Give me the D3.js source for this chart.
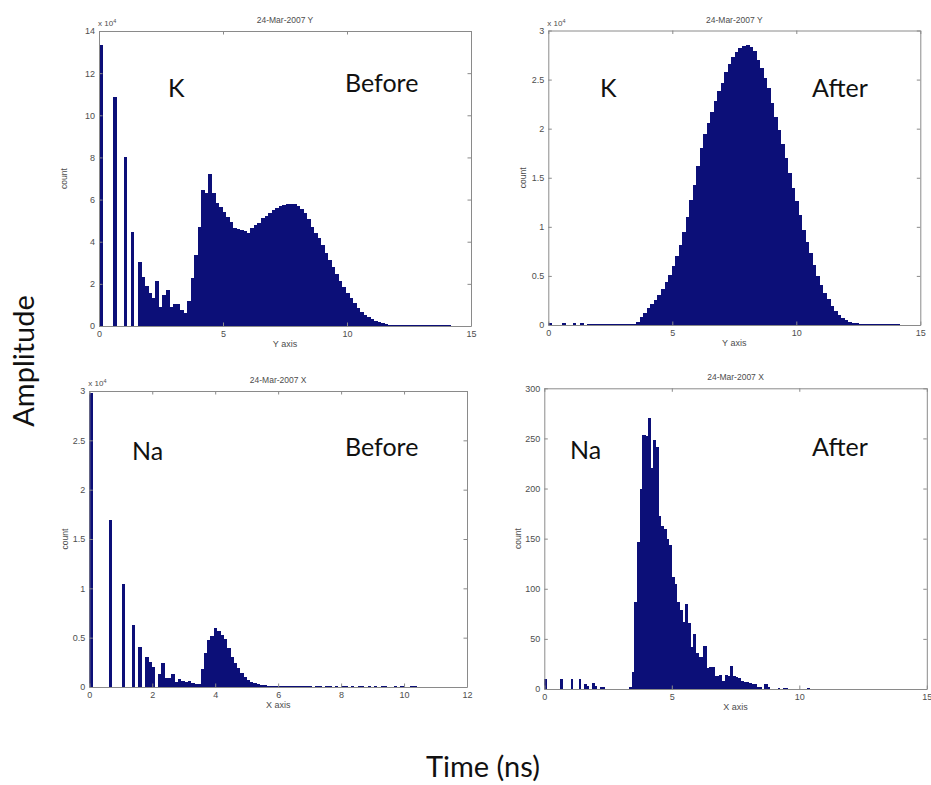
<!DOCTYPE html>
<html>
<head>
<meta charset="utf-8">
<script src="https://cdn.jsdelivr.net/npm/d3@7/dist/d3.min.js"></script>
<style>
  html, body { margin: 0; padding: 0; background: #ffffff; }
  svg { display: block; }
</style>
</head>
<body>
<svg id="chart" width="931" height="785"></svg>
<script>
// ---------------- DATA ----------------
// Histogram counts, 100 bins each. K (Y axis) bins are 0.142 ns wide, Na (X axis) bins 0.104 ns.
const kBinWidth = 0.142;
const naBinWidth = 0.104;

// K Before, counts x 10^4
const kBefore = [
  13.35, 0, 0, 0, 10.85, 0, 0, 8.0, 0, 4.48,
  0, 3.05, 2.34, 1.90, 1.55, 1.31, 2.15, 0.92, 1.47, 1.69,
  0.89, 1.03, 1.03, 0.76, 0.63, 1.19, 2.26, 3.37, 4.72, 6.46,
  6.30, 7.22, 6.33, 5.85, 5.66, 5.43, 5.16, 4.92, 4.64, 4.59,
  4.56, 4.53, 4.43, 4.67, 4.79, 4.91, 5.11, 5.22, 5.35, 5.51,
  5.59, 5.68, 5.74, 5.79, 5.79, 5.78, 5.70, 5.54, 5.35, 5.06,
  4.72, 4.43, 4.16, 3.84, 3.48, 3.13, 2.78, 2.47, 2.15, 1.87,
  1.55, 1.31, 1.08, 0.87, 0.68, 0.52, 0.41, 0.32, 0.24, 0.17,
  0.13, 0.09, 0.06, 0.05, 0.03, 0.025, 0.02, 0.015, 0.012, 0.01,
  0.008, 0.006, 0.005, 0.004, 0.003, 0.003, 0.002, 0.002, 0.001, 0.001
];

// K After, counts x 10^4
const kAfter = [
  0.02, 0, 0, 0, 0.02, 0, 0, 0.02, 0, 0.02,
  0, 0.008, 0.007, 0.007, 0.006, 0.007, 0.01, 0.006, 0.008, 0.012,
  0.007, 0.008, 0.008, 0.009, 0.012, 0.03, 0.08, 0.12, 0.17, 0.21,
  0.25, 0.31, 0.37, 0.44, 0.51, 0.60, 0.70, 0.82, 0.95, 1.10,
  1.27, 1.43, 1.62, 1.80, 1.95, 2.06, 2.17, 2.28, 2.38, 2.47,
  2.58, 2.66, 2.73, 2.78, 2.82, 2.84, 2.85, 2.83, 2.79, 2.70,
  2.62, 2.52, 2.41, 2.26, 2.12, 1.99, 1.84, 1.70, 1.55, 1.40,
  1.26, 1.12, 0.97, 0.85, 0.73, 0.61, 0.50, 0.41, 0.33, 0.26,
  0.19, 0.14, 0.10, 0.07, 0.05, 0.034, 0.024, 0.017, 0.012, 0.008,
  0.005, 0.004, 0.003, 0.003, 0.002, 0.002, 0.001, 0.001, 0.001, 0.001
];

// Na Before, counts x 10^4
const naBefore = [
  2.98, 0, 0, 0, 0, 0, 1.69, 0, 0, 0,
  1.04, 0, 0, 0.63, 0, 0.41, 0, 0.30, 0.25, 0.20,
  0, 0.13, 0.24, 0.095, 0.088, 0.13, 0.054, 0.08, 0.065, 0.05,
  0.057, 0.037, 0.03, 0.035, 0.18, 0.34, 0.48, 0.52, 0.60, 0.57,
  0.53, 0.49, 0.40, 0.30, 0.24, 0.19, 0.14, 0.10, 0.07, 0.05,
  0.037, 0.027, 0.02, 0.017, 0.013, 0.01, 0.008, 0.006, 0.005, 0.004,
  0.004, 0.003, 0.003, 0.003, 0.002, 0.001, 0.002, 0.001, 0, 0.001,
  0.001, 0, 0.001, 0.001, 0, 0.001, 0, 0.001, 0.001, 0,
  0.001, 0, 0.001, 0.001, 0, 0.001, 0, 0.001, 0, 0.001,
  0.001, 0, 0, 0.001, 0, 0.001, 0, 0, 0.001, 0.001
];

// Na After, raw counts
const naAfter = [
  10, 0, 0, 0, 0, 0, 10, 0, 0, 0,
  10, 0, 0, 10, 0, 5, 3, 0, 6, 3,
  0, 2, 2, 0, 0, 0, 0, 0, 0, 0,
  0, 0, 2, 17, 87, 147, 200, 253, 252, 270,
  220, 248, 241, 173, 163, 160, 150, 144, 112, 105,
  87, 79, 67, 85, 66, 42, 55, 36, 32, 32,
  43, 21, 22, 22, 13, 13, 14, 8, 14, 13,
  23, 13, 12, 11, 8, 7, 7, 6, 5, 5,
  2, 2, 0, 5, 2, 0, 0, 0, 1, 0,
  1, 1, 0, 0, 0, 0, 0, 0, 0, 1
];

// Axis ticks
const kXTicks = [0, 5, 10, 15];
const kBeforeYTicks = [0, 2, 4, 6, 8, 10, 12, 14];
const kAfterYTicks = [0, 0.5, 1, 1.5, 2, 2.5, 3];
const naBeforeXTicks = [0, 2, 4, 6, 8, 10, 12];
const naBeforeYTicks = [0, 0.5, 1, 1.5, 2, 2.5, 3];
const naAfterXTicks = [0, 5, 10, 15];
const naAfterYTicks = [0, 50, 100, 150, 200, 250, 300];

// Texts
const titles = ["24-Mar-2007 Y", "24-Mar-2007 Y", "24-Mar-2007 X", "24-Mar-2007 X"];
const xLabels = ["Y axis", "Y axis", "X axis", "X axis"];
const elements = ["K", "K", "Na", "Na"];
const stages = ["Before", "After", "Before", "After"];

// ---------------- LAYOUT ----------------
const panels = [
  { counts: kBefore, binW: kBinWidth, xMax: 15, yMax: 14, xTicks: kXTicks, yTicks: kBeforeYTicks, exp: true,
    box: { l: 99, r: 471, t: 31, b: 326 }, ylab: 67, el: { x: 168, y: 97 }, st: { x: 345, y: 92 } },
  { counts: kAfter, binW: kBinWidth, xMax: 15, yMax: 3, xTicks: kXTicks, yTicks: kAfterYTicks, exp: true,
    box: { l: 548.3, r: 920.3, t: 30.5, b: 325 }, ylab: 526, el: { x: 600, y: 97 }, st: { x: 812, y: 97 } },
  { counts: naBefore, binW: naBinWidth, xMax: 12, yMax: 3, xTicks: naBeforeXTicks, yTicks: naBeforeYTicks, exp: true,
    box: { l: 89.3, r: 467, t: 391, b: 687 }, ylab: 68, el: { x: 132, y: 460 }, st: { x: 345, y: 456 } },
  { counts: naAfter, binW: naBinWidth, xMax: 15, yMax: 300, xTicks: naAfterXTicks, yTicks: naAfterYTicks, exp: false,
    box: { l: 544.3, r: 926.8, t: 388.3, b: 689 }, ylab: 521, el: { x: 570, y: 459 }, st: { x: 812, y: 456 } }
];

const barColor = "#0c0f78";
const axisColor = "#8a8a8a";
const labelColor = "#4d4d4d";
const smallFont = '"Liberation Sans", Arial, sans-serif';
const bigFont = 'Lato, "Open Sans", sans-serif';

const svg = d3.select("#chart");
const fmt = d3.format("~g");

panels.forEach((p, i) => {
  const x = d3.scaleLinear().domain([0, p.xMax]).range([p.box.l, p.box.r]);
  const y = d3.scaleLinear().domain([0, p.yMax]).range([p.box.b, p.box.t]);
  const g = svg.append("g");

  // bars
  const bins = p.counts.map((c, k) => ({ x0: k * p.binW, x1: (k + 1) * p.binW, c, next: p.counts[k + 1] || 0 }));
  g.append("g").attr("shape-rendering", "crispEdges").selectAll("rect")
    .data(bins.filter(d => d.c > 0))
    .join("rect")
    .attr("x", d => x(d.x0))
    .attr("width", d => x(d.x1) - x(d.x0) + (d.next > 0 ? 0.5 : 0))
    .attr("y", d => Math.min(y(d.c), y(0) - 1))
    .attr("height", d => Math.max(y(0) - y(d.c), 1))
    .attr("fill", barColor);

  // axes (box with inward ticks)
  const styleAxis = sel => {
    sel.selectAll(".domain").attr("stroke", axisColor).attr("stroke-width", 1);
    sel.selectAll(".tick line").attr("stroke", axisColor);
    sel.selectAll(".tick text").attr("fill", labelColor).style("font-size", "9px").style("font-family", smallFont);
  };
  g.append("g").attr("transform", `translate(0,${p.box.b})`)
    .call(d3.axisBottom(x).tickValues(p.xTicks).tickFormat(fmt).tickSize(-3.5).tickSizeOuter(0).tickPadding(5))
    .call(styleAxis);
  g.append("g").attr("transform", `translate(0,${p.box.t})`)
    .call(d3.axisTop(x).tickValues(p.xTicks).tickFormat("").tickSize(-3.5).tickSizeOuter(0))
    .call(styleAxis);
  g.append("g").attr("transform", `translate(${p.box.l},0)`)
    .call(d3.axisLeft(y).tickValues(p.yTicks).tickFormat(fmt).tickSize(-3.5).tickSizeOuter(0).tickPadding(4))
    .call(styleAxis);
  g.append("g").attr("transform", `translate(${p.box.r},0)`)
    .call(d3.axisRight(y).tickValues(p.yTicks).tickFormat("").tickSize(-3.5).tickSizeOuter(0))
    .call(styleAxis);

  // title
  g.append("text")
    .attr("x", (p.box.l + p.box.r) / 2).attr("y", p.box.t - 8)
    .attr("text-anchor", "middle")
    .attr("fill", labelColor).style("font-family", smallFont).style("font-size", "8.5px")
    .text(titles[i]);

  // exponent
  if (p.exp) {
    const e = g.append("text")
      .attr("x", p.box.l - 1).attr("y", p.box.t - 5)
      .attr("fill", labelColor).style("font-family", smallFont).style("font-size", "8px");
    e.append("tspan").text("x 10");
    e.append("tspan").attr("dy", -3).style("font-size", "5.5px").text("4");
  }

  // x label
  g.append("text")
    .attr("x", (p.box.l + p.box.r) / 2).attr("y", p.box.b + 21)
    .attr("text-anchor", "middle")
    .attr("fill", labelColor).style("font-family", smallFont).style("font-size", "9px")
    .text(xLabels[i]);

  // y label
  g.append("text")
    .attr("transform", `translate(${p.ylab},${(p.box.t + p.box.b) / 2}) rotate(-90)`)
    .attr("text-anchor", "middle")
    .attr("fill", labelColor).style("font-family", smallFont).style("font-size", "8.5px")
    .text("count");

  // annotations
  g.append("text").attr("x", p.el.x).attr("y", p.el.y)
    .attr("fill", "#111").style("font-family", bigFont).style("font-size", "25px")
    .text(elements[i]);
  g.append("text").attr("x", p.st.x).attr("y", p.st.y)
    .attr("fill", "#111").style("font-family", bigFont).style("font-size", "25px")
    .text(stages[i]);
});

// global labels
svg.append("text")
  .attr("transform", "translate(34,361) rotate(-90)")
  .attr("text-anchor", "middle")
  .attr("fill", "#111").style("font-family", bigFont).style("font-size", "29px")
  .text("Amplitude");
svg.append("text")
  .attr("x", 483).attr("y", 777)
  .attr("text-anchor", "middle")
  .attr("fill", "#111").style("font-family", bigFont).style("font-size", "29px")
  .text("Time (ns)");
</script>
</body>
</html>
